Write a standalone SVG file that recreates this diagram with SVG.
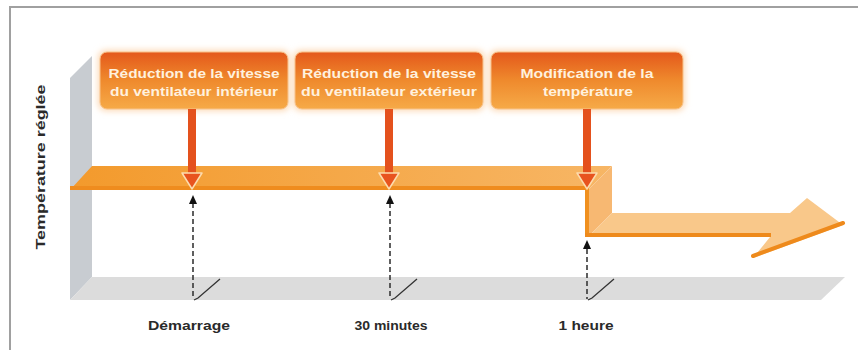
<svg xmlns="http://www.w3.org/2000/svg" width="858" height="350" viewBox="0 0 858 350">
<style>
.boxtxt{font-family:"Liberation Sans",Arial,sans-serif;font-weight:bold;font-size:12.5px;fill:#fff1de;text-anchor:middle}
.lbl{font-family:"Liberation Sans",Arial,sans-serif;font-weight:bold;font-size:13px;fill:#2a2a2a;text-anchor:middle}
.stem{fill:#e4511d}
.rhead{fill:#e8541f;stroke:#fcdcae;stroke-width:1.5;stroke-linejoin:round}
.dash{stroke:#383838;stroke-width:1.6;stroke-dasharray:5 3;fill:none}
.bhead{fill:#111}
.slash{stroke:#333;stroke-width:1.3;fill:none}
</style>
<defs>
<linearGradient id="boxGrad" x1="0" y1="0" x2="0" y2="1">
<stop offset="0" stop-color="#e4581b"/>
<stop offset="0.5" stop-color="#ef8a2d"/>
<stop offset="1" stop-color="#f6aa48"/>
</linearGradient>
<linearGradient id="barGrad" x1="70" y1="0" x2="612" y2="0" gradientUnits="userSpaceOnUse">
<stop offset="0" stop-color="#f39a2c"/>
<stop offset="1" stop-color="#f7b665"/>
</linearGradient>
<filter id="glow" x="-20%" y="-30%" width="140%" height="160%">
<feGaussianBlur stdDeviation="3"/>
</filter>
</defs>
<rect width="858" height="350" fill="#fff"/>
<g id="frame">
<path d="M10,350 V7 H858" fill="none" stroke="#a0a0a0" stroke-width="2"/>
</g>
<g id="axes">
<polygon points="70,78 92,56 92,277 70,300" fill="#c8ccd1"/>
<polygon points="70,300 92,277 845,277 821,300" fill="#dcdcdc"/>
<text class="lbl" transform="translate(45,167) rotate(-90)" font-size="15" textLength="165" lengthAdjust="spacingAndGlyphs">Température réglée</text>
</g>
<g id="temperature-bar">
<polygon points="70,190 92,166 612,166 588,190" fill="url(#barGrad)"/>
<polygon points="588,190 612,166 612,213 588,237" fill="#f7b872"/>
<polygon points="588,237 612,213 790,213 807,198 843,225 753,258 770,237" fill="#f9c88a"/>
<rect x="70" y="186" width="518" height="4" fill="#ef8c1e"/>
<rect x="585" y="187" width="4" height="50" fill="#f0901f"/>
<rect x="585" y="233" width="186" height="4" fill="#ee8a1c"/>
<line x1="753" y1="256" x2="843" y2="223" stroke="#ee8a1c" stroke-width="4" stroke-linecap="round"/>
</g>
<g id="box1">
<rect x="98" y="50" width="192" height="61" rx="8" fill="#fcd9b5" filter="url(#glow)"/>
<rect x="100" y="52" width="188" height="57" rx="7" fill="url(#boxGrad)" stroke="#f8c28a" stroke-width="1"/>
<text class="boxtxt" x="194" y="78" textLength="171" lengthAdjust="spacingAndGlyphs">Réduction de la vitesse</text>
<text class="boxtxt" x="194" y="96" textLength="168" lengthAdjust="spacingAndGlyphs">du ventilateur intérieur</text>
</g>
<g id="box2">
<rect x="293" y="50" width="192" height="61" rx="8" fill="#fcd9b5" filter="url(#glow)"/>
<rect x="295" y="52" width="188" height="57" rx="7" fill="url(#boxGrad)" stroke="#f8c28a" stroke-width="1"/>
<text class="boxtxt" x="389" y="78" textLength="174" lengthAdjust="spacingAndGlyphs">Réduction de la vitesse</text>
<text class="boxtxt" x="389" y="96" textLength="176" lengthAdjust="spacingAndGlyphs">du ventilateur extérieur</text>
</g>
<g id="box3">
<rect x="489" y="50" width="196" height="61" rx="8" fill="#fcd9b5" filter="url(#glow)"/>
<rect x="491" y="52" width="192" height="57" rx="7" fill="url(#boxGrad)" stroke="#f8c28a" stroke-width="1"/>
<text class="boxtxt" x="587" y="78" textLength="133" lengthAdjust="spacingAndGlyphs">Modification de la</text>
<text class="boxtxt" x="588" y="96" textLength="90" lengthAdjust="spacingAndGlyphs">température</text>
</g>
<g id="connectors">
<rect class="stem" x="188" y="109" width="8" height="66"/>
<polygon class="rhead" points="182,173 202,173 192,189"/>
<rect class="stem" x="385" y="109" width="8" height="66"/>
<polygon class="rhead" points="379,173 399,173 389,189"/>
<rect class="stem" x="583" y="109" width="8" height="66"/>
<polygon class="rhead" points="577,173 597,173 587,189"/>
<line class="dash" x1="193" y1="203" x2="193" y2="299"/>
<polygon class="bhead" points="193,195 189,204 197,204"/>
<path class="slash" d="M194,300 L198,298 L220,279"/>
<line class="dash" x1="390" y1="203" x2="390" y2="299"/>
<polygon class="bhead" points="390,195 386,204 394,204"/>
<path class="slash" d="M391,300 L395,298 L417,279"/>
<line class="dash" x1="587" y1="249" x2="587" y2="299"/>
<polygon class="bhead" points="587,240 583,249 591,249"/>
<path class="slash" d="M588,300 L592,298 L614,279"/>
</g>
<g id="labels">
<text class="lbl" x="189" y="330" textLength="82" lengthAdjust="spacingAndGlyphs">Démarrage</text>
<text class="lbl" x="391" y="330" textLength="73" lengthAdjust="spacingAndGlyphs">30 minutes</text>
<text class="lbl" x="586" y="330" textLength="55" lengthAdjust="spacingAndGlyphs">1 heure</text>
</g>
</svg>
